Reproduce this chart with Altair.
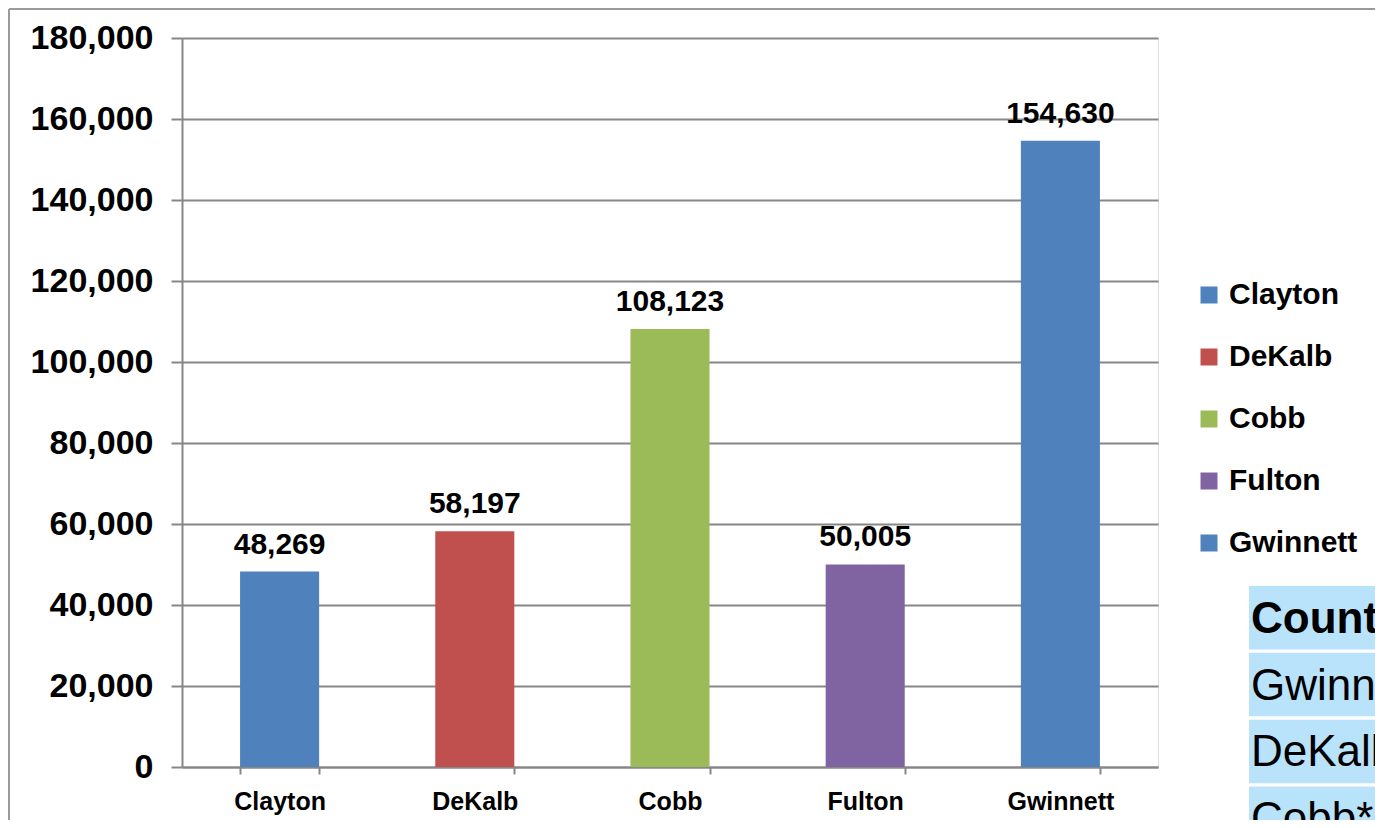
import altair as alt
import pandas as pd

counties = ["Clayton", "DeKalb", "Cobb", "Fulton", "Gwinnett"]
values = [48269, 58197, 108123, 50005, 154630]
colors = ["#4F81BD", "#C0504D", "#9BBB59", "#8064A2", "#4F81BD"]
y_ticks = [0, 20000, 40000, 60000, 80000, 100000, 120000, 140000, 160000, 180000]

table_rows = ["County", "Gwinnett", "DeKalb", "Cobb*"]
table_bold = [True, False, False, False]

FONT = "Liberation Sans"
GRAY = "#878787"

df = pd.DataFrame({"county": counties, "value": values})
tdf = pd.DataFrame({"row": table_rows, "bold": table_bold})

x_enc = alt.X(
    "county:N",
    sort=counties,
    scale=alt.Scale(paddingInner=0.595, paddingOuter=0.2975),
    axis=alt.Axis(
        title=None, labelAngle=0, labelFont=FONT, labelFontSize=25, labelFontWeight="bold",
        labelColor="black", tickBand="extent", tickSize=7, tickWidth=2, tickColor=GRAY,
        domainColor=GRAY, domainWidth=2, labelPadding=15, grid=False,
    ),
)
y_enc = alt.Y(
    "value:Q",
    scale=alt.Scale(domain=[0, 180000], nice=False),
    axis=alt.Axis(
        title=None, values=y_ticks, format=",.0f", labelFont=FONT, labelFontSize=34,
        labelFontWeight="bold", labelColor="black", tickSize=11, tickWidth=2, tickColor=GRAY,
        domainColor=GRAY, domainWidth=2, gridColor=GRAY, gridWidth=2, grid=True,
        labelPadding=18,
    ),
)

bars = alt.Chart(df).mark_bar().encode(
    x=x_enc,
    y=y_enc,
    color=alt.Color(
        "county:N",
        sort=counties,
        scale=alt.Scale(domain=counties, range=colors),
        legend=alt.Legend(
            title=None, orient="none", legendX=1012, legendY=242, symbolType="square",
            symbolSize=289, symbolStrokeWidth=0, labelFont=FONT, labelFontSize=30,
            labelFontWeight="bold", labelColor="black", rowPadding=32, labelOffset=5,
            padding=0,
        ),
    ),
)

labels = alt.Chart(df).mark_text(
    font=FONT, fontSize=30, fontWeight="bold", color="black", baseline="alphabetic", dy=-18
).encode(x=alt.X("county:N", sort=counties), y="value:Q", text=alt.Text("value:Q", format=",.0f"))

table_y = alt.Y(
    "row:N", sort=table_rows,
    scale=alt.Scale(domain=table_rows, range=[548, 812], paddingInner=0.05, paddingOuter=0),
    axis=None,
)
table_rect = alt.Chart(tdf).mark_rect(color="#B9E2FB").encode(
    y=table_y, x=alt.value(1067), x2=alt.value(1300)
)
table_text_bold = alt.Chart(tdf).transform_filter("datum.bold").mark_text(
    font=FONT, fontSize=44, fontWeight="bold", color="black", align="left", baseline="middle", dy=2
).encode(y=table_y, x=alt.value(1069), text="row:N")
table_text = alt.Chart(tdf).transform_filter("!datum.bold").mark_text(
    font=FONT, fontSize=44, color="black", align="left", baseline="middle", dy=2
).encode(y=table_y, x=alt.value(1069), text="row:N")

frame_left = alt.Chart(df).mark_rule(color="#9a9a9a", strokeWidth=2).encode(
    x=alt.value(-173), y=alt.value(-29), y2=alt.value(800)
)
frame_top = alt.Chart(df).mark_rule(color="#9a9a9a", strokeWidth=2).encode(
    x=alt.value(-173), x2=alt.value(1300), y=alt.value(-29)
)

main = alt.layer(bars, labels)
table = alt.layer(table_rect, table_text_bold, table_text)

chart = alt.layer(main, table, frame_left, frame_top).resolve_scale(y="independent").properties(
    width=976,
    height=729,
    autosize=alt.AutoSizeParams(type="none"),
    padding={"left": 174, "top": 30, "right": 217, "bottom": 53},
).configure_view(strokeWidth=0).configure(background="white")

chart.save("out.html", embed_options={"renderer": "svg", "actions": False})
